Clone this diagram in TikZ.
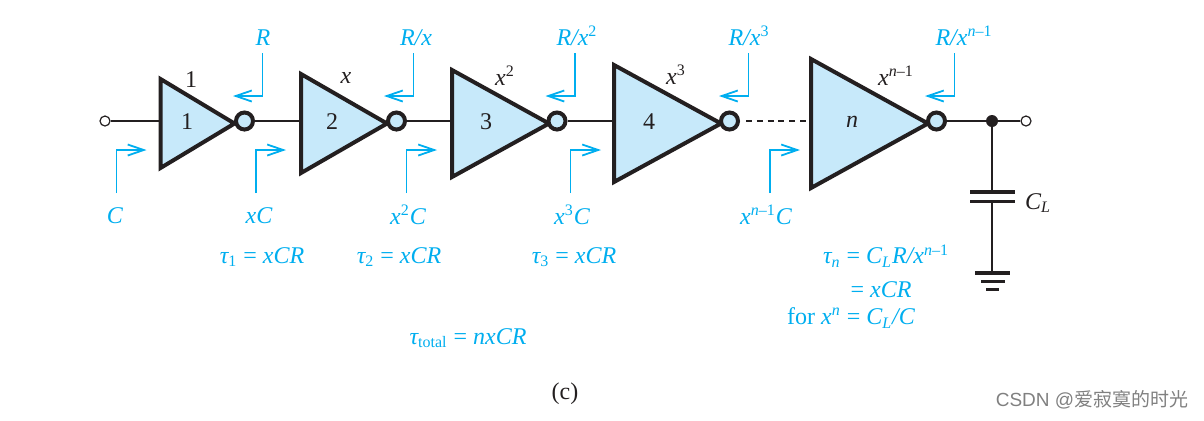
\documentclass[tikz,border=0pt]{standalone}
\usepackage{fontspec}
\setmainfont{Liberation Serif}
\setsansfont{Liberation Sans}
\newfontfamily\cjkfont{Noto Sans CJK SC}
\usetikzlibrary{arrows.meta, positioning, shapes.geometric}
\definecolor{invfill}{HTML}{C7E9FA}
\definecolor{sensecyan}{HTML}{00AEEF}
\definecolor{inkblack}{HTML}{231F20}

\begin{document}
\begin{tikzpicture}
    [
        x=0.5pt, y=-0.5pt,
        inverter/.style = {
                draw=inkblack,
                fill=invfill,
                line width=2pt,
                isosceles triangle,
                isosceles triangle stretches,
                shape border rotate=0,
                inner sep=0pt,
                anchor=lower side
            },
        bubble/.style = {
                draw=inkblack,
                fill=invfill,
                circle,
                line width=2pt,
                inner sep=0pt,
                minimum size=8.5pt
            },
        terminal/.style = {
                draw=inkblack,
                fill=white,
                circle,
                line width=0.6pt,
                inner sep=0pt,
                minimum size=5pt
            },
        junction/.style = {
                fill=inkblack,
                circle,
                inner sep=0pt,
                minimum size=6pt
            },
        wire/.style = {draw=inkblack, line width=0.6pt},
        plate/.style = {draw=inkblack, line width=1.8pt},
        groundbar/.style = {draw=inkblack, line width=1.6pt},
        sense/.style = {
                draw=sensecyan,
                line width=0.9pt,
                -{Straight Barb[length=8pt,width=5.5pt,line width=0.9pt]}
            },
        inklabel/.style = {text=inkblack, inner sep=0pt, font=\fontsize{12}{14}\selectfont},
        senselabel/.style = {text=sensecyan, inner sep=0pt, font=\itshape\fontsize{12}{14}\selectfont},
    ]
    \useasboundingbox (0,0) rectangle (1204,420);

    % inverter chain
    \node [inverter, minimum width=44.5pt, minimum height=37pt] (inv1) at (158.5,123.5) {};
    \node [inverter, minimum width=49.5pt, minimum height=43pt] (inv2) at (299,123.5) {};
    \node [inverter, minimum width=53.5pt, minimum height=48.5pt] (inv3) at (450,123.5) {};
    \node [inverter, minimum width=58.5pt, minimum height=53.5pt] (inv4) at (612,123.5) {};
    \node [inverter, minimum width=64.5pt, minimum height=58.5pt] (invn) at (809,123.5) {};

    \node [bubble] (bub1) at (244.5,121) {};
    \node [bubble] (bub2) at (396.5,121) {};
    \node [bubble] (bub3) at (557,121) {};
    \node [bubble] (bub4) at (729.5,121) {};
    \node [bubble] (bubn) at (936.5,121) {};

    \node [terminal] (vin) at (105,121) {};
    \node [terminal] (vout) at (1026,121) {};
    \node [junction] (dot) at (992,121) {};

    \coordinate (captop) at (992,192);
    \coordinate (capbot) at (992,201.5);
    \coordinate (gnd) at (992,273);

    \draw [wire] (vin) -- (vin -| inv1.lower side);
    \draw [wire] (bub1) -- (bub1 -| inv2.lower side);
    \draw [wire] (bub2) -- (bub2 -| inv3.lower side);
    \draw [wire] (bub3) -- (bub3 -| inv4.lower side);
    \draw [wire, dash pattern=on 3pt off 2.4pt, shorten <=3pt] (bub4) -- (bub4 -| invn.lower side);
    \draw [wire] (bubn) -- (dot);
    \draw [wire] (dot) -- (vout);
    \draw [wire] (dot) -- (captop);
    \draw [wire] (capbot) -- (gnd);

    % capacitor and ground
    \draw [plate] (970,192) -- (1015,192);
    \draw [plate] (970,201.5) -- (1015,201.5);
    \draw [groundbar] (975,273) -- (1010,273);
    \draw [groundbar] (981,281.5) -- (1005,281.5);
    \draw [groundbar] (986,289.5) -- (999,289.5);

    % output resistance arrows
    \coordinate (rtop1) at (262.5,53);
    \coordinate (rtip1) at (233,96);
    \coordinate (rtop2) at (413.5,53);
    \coordinate (rtip2) at (384,96);
    \coordinate (rtop3) at (575,53);
    \coordinate (rtip3) at (545.5,96);
    \coordinate (rtop4) at (748.5,53);
    \coordinate (rtip4) at (719,96);
    \coordinate (rtopn) at (954.5,53);
    \coordinate (rtipn) at (925,96);
    \draw [sense] (rtop1) |- (rtip1);
    \draw [sense] (rtop2) |- (rtip2);
    \draw [sense] (rtop3) |- (rtip3);
    \draw [sense] (rtop4) |- (rtip4);
    \draw [sense] (rtopn) |- (rtipn);

    % input capacitance arrows
    \coordinate (cbot1) at (116.5,193);
    \coordinate (ctip1) at (146.5,150);
    \coordinate (cbot2) at (256,193);
    \coordinate (ctip2) at (286,150);
    \coordinate (cbot3) at (406.5,193);
    \coordinate (ctip3) at (437,150);
    \coordinate (cbot4) at (570.5,193);
    \coordinate (ctip4) at (601,150);
    \coordinate (cbotn) at (770,193);
    \coordinate (ctipn) at (800,150);
    \draw [sense] (cbot1) |- (ctip1);
    \draw [sense] (cbot2) |- (ctip2);
    \draw [sense] (cbot3) |- (ctip3);
    \draw [sense] (cbot4) |- (ctip4);
    \draw [sense] (cbotn) |- (ctipn);

    % stage numbers and sizes
    \node [inklabel] (num1) at (187,122) {1};
    \node [inklabel] (num2) at (332,122) {2};
    \node [inklabel] (num3) at (486,122) {3};
    \node [inklabel] (num4) at (649,122) {4};
    \node [inklabel] (numn) at (852,122) {\itshape n};
    \node [inklabel] (size1) at (191,80) {1};
    \node [inklabel] (size2) at (346,78) {\itshape x};
    \node [inklabel] (size3) at (505,76) {\itshape x\textsuperscript{\upshape 2}};
    \node [inklabel] (size4) at (676,75) {\itshape x\textsuperscript{\upshape 3}};
    \node [inklabel] (sizen) at (896,76) {\itshape x\textsuperscript{n\textup{–1}}};
    \node [inklabel] (loadcap) at (1038,203) {\itshape C\textsubscript{L}};

    % resistance and capacitance labels
    \node [senselabel] (rlabel1) at (263,38) {R};
    \node [senselabel] (rlabel2) at (416,38) {R/x};
    \node [senselabel] (rlabel3) at (577,36) {R/x\textsuperscript{\upshape 2}};
    \node [senselabel] (rlabel4) at (749,36) {R/x\textsuperscript{\upshape 3}};
    \node [senselabel] (rlabeln) at (964,36) {R/x\textsuperscript{n\textup{–1}}};
    \node [senselabel] (clabel1) at (115,216) {C};
    \node [senselabel] (clabel2) at (259,216) {xC};
    \node [senselabel] (clabel3) at (408,215) {x\textsuperscript{\upshape 2}C};
    \node [senselabel] (clabel4) at (572,215) {x\textsuperscript{\upshape 3}C};
    \node [senselabel] (clabeln) at (766,215) {x\textsuperscript{n\textup{–1}}C};

    % time constants
    \node [senselabel] (tau1) at (262,257) {τ\textsubscript{\upshape 1} \textup{=} xCR};
    \node [senselabel] (tau2) at (399,257) {τ\textsubscript{\upshape 2} \textup{=} xCR};
    \node [senselabel] (tau3) at (574,257) {τ\textsubscript{\upshape 3} \textup{=} xCR};
    \node [senselabel] (taun) at (886,256) {τ\textsubscript{n} \textup{=} C\textsubscript{L}R/x\textsuperscript{n\textup{–1}}};
    \node [senselabel] (taueq) at (881,290) {\textup{=} xCR};
    \node [senselabel] (taufor) at (851,318) {\textup{for} x\textsuperscript{n} \textup{=} C\textsubscript{L}/C};
    \node [senselabel] (tautotal) at (468,338) {τ\textsubscript{\upshape total} \textup{=} nxCR};

    \node [inklabel] (caption) at (565,394) {(c)};
    \node [text=gray, inner sep=0pt, font=\sffamily\fontsize{9.5}{11}\selectfont] (mark) at (1092,400) {CSDN @{\cjkfont 爱寂寞的时光}};
\end{tikzpicture}
\end{document}
